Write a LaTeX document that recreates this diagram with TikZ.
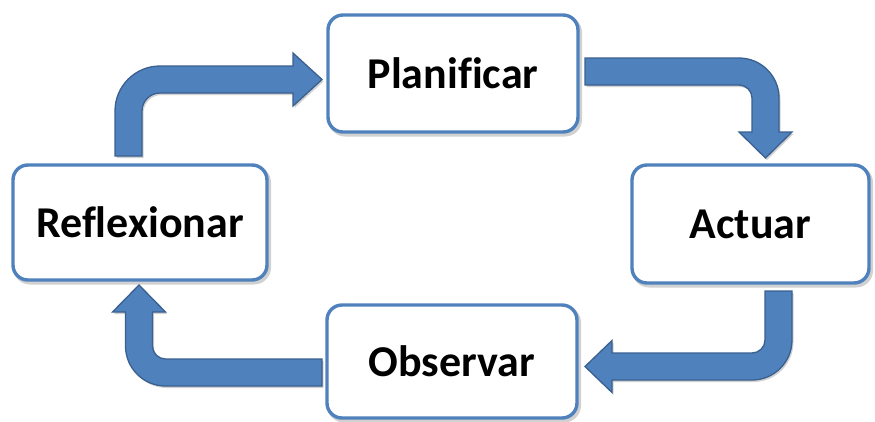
\documentclass[tikz,border=0pt]{standalone}
\usepackage{fontspec}
\setmainfont[Ligatures=NoCommon]{Carlito}
\definecolor{boxblue}{HTML}{4F81BD}
\definecolor{arrowline}{HTML}{3A6090}
\begin{document}
\begin{tikzpicture}[x=1pt,y=1pt,yscale=-1,
  stage/.style={draw=boxblue, line width=3.4pt, fill=white, rounded corners=15pt,
    inner sep=0pt, font=\fontsize{44}{50}\selectfont\bfseries,
    preaction={draw=black, opacity=0.18, line width=4pt, transform canvas={xshift=2pt,yshift=-2.5pt}}},
  blockarrow/.style={fill=boxblue, draw=arrowline, line width=1.3pt, line join=miter,
    preaction={fill=black, draw=none, opacity=0.18, transform canvas={xshift=1.5pt,yshift=-2pt}}}]
\useasboundingbox (0,0) rectangle (875,421);

% block arrows
\draw[blockarrow] (115,156) -- (115,111) arc[start angle=180, end angle=270, radius=45]
  -- (293,66) -- (293,53) -- (322,79.5) -- (293,106) -- (293,93) -- (160,93)
  arc[start angle=270, end angle=180, radius=18] -- (142,156) -- cycle;

\draw[blockarrow] (585,58) -- (739,58) arc[start angle=270, end angle=360, radius=40]
  -- (779,132) -- (792,132) -- (765.5,158) -- (739,132) -- (752,132) -- (752,98)
  arc[start angle=0, end angle=-90, radius=13] -- (585,85) -- cycle;

\draw[blockarrow] (765,291) -- (792,291) -- (792,340) arc[start angle=0, end angle=90, radius=40]
  -- (612,380) -- (612,392.5) -- (585,366.5) -- (612,340.5) -- (612,353) -- (752,353)
  arc[start angle=90, end angle=0, radius=13] -- cycle;

\draw[blockarrow] (322,359) -- (322,386) -- (165.5,386) arc[start angle=90, end angle=180, radius=40]
  -- (125.5,312) -- (112.5,312) -- (139,285) -- (165.5,312) -- (152.5,312) -- (152.5,346)
  arc[start angle=180, end angle=90, radius=13] -- cycle;

% stages
\node[stage, minimum width=250pt, minimum height=117pt] (plan) at (453,73.5) {Planificar};
\node[stage, minimum width=237pt, minimum height=118pt] (act) at (750.5,224) {Actuar};
\node[stage, minimum width=250pt, minimum height=113pt] (obs) at (452,361.5) {Observar};
\node[stage, minimum width=254pt, minimum height=115pt] (ref) at (140,222.5) {Reflexionar};
\end{tikzpicture}
\end{document}
